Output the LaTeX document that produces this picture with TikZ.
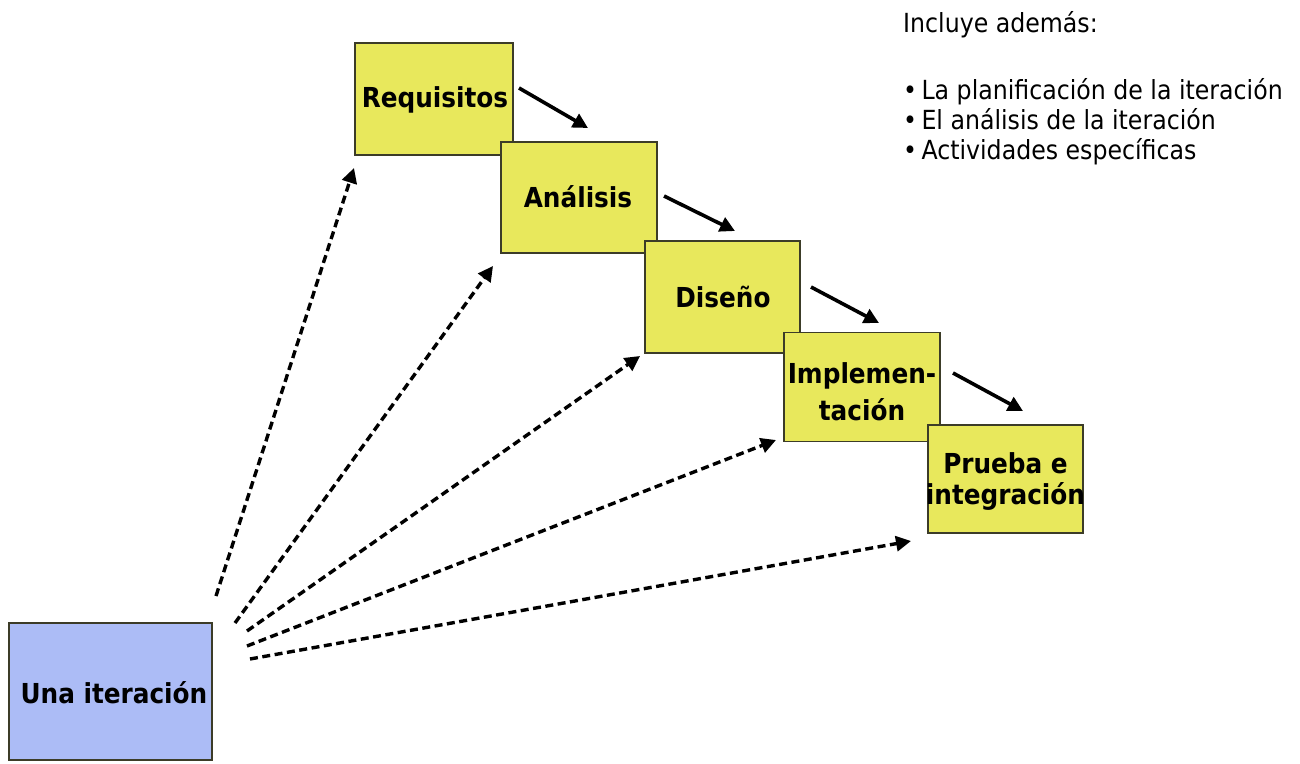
\documentclass[tikz,border=0pt]{standalone}
\usepackage{fontspec}
\setmainfont{DejaVu Sans}
\newfontfamily\boxfont{DejaVu Sans Condensed}
\newfontfamily\notefont{DejaVu Sans Condensed}
\usetikzlibrary{arrows.meta}
\definecolor{boxyellow}{RGB}{232,232,92}
\definecolor{boxblue}{RGB}{172,188,246}
\definecolor{boxline}{RGB}{60,60,40}
\begin{document}
\begin{tikzpicture}[x=1pt,y=-1pt,
  stage/.style={draw=boxline, line width=1.5pt, fill=boxyellow, inner sep=0pt},
  boxtext/.style={font=\boxfont\bfseries\fontsize{27.5}{31}\selectfont, inner sep=0pt, align=center},
  flow/.style={line width=3.6pt, -{Triangle[length=15pt,width=15pt]}},
  feed/.style={line width=3.4pt, dash pattern=on 8pt off 4.5pt, -{Triangle[length=15pt,width=15pt]}},
  note/.style={font=\notefont\fontsize{26.3}{30}\selectfont, inner sep=0pt, anchor=base west}]
\useasboundingbox (0,0) rectangle (1300,763);
\fill[white] (0,0) rectangle (1300,763);

\node[stage, minimum width=158pt, minimum height=112pt] (req) at (434,99) {};
\node[boxtext] at (435,100) {Requisitos};
\node[stage, minimum width=156pt, minimum height=111pt] (ana) at (579,197.5) {};
\node[boxtext] at (578,197) {Análisis};
\node[stage, minimum width=155pt, minimum height=112pt] (dis) at (722.5,297) {};
\node[boxtext] at (723,297) {Diseño};
\node[stage, minimum width=156pt, minimum height=109pt] (imp) at (862,387) {};
\node[boxtext, font=\boxfont\bfseries\fontsize{27.5}{37}\selectfont] at (862,392) {Implemen-\\tación};
\node[stage, minimum width=155pt, minimum height=108pt] (pru) at (1005.5,479) {};
\node[boxtext] at (1005.5,482) {Prueba e\\integración};

\node[draw=boxline, line width=1.5pt, fill=boxblue, minimum width=203pt, minimum height=137pt, inner sep=0pt] (una) at (110.5,691.5) {};
\node[boxtext, anchor=base] at (114,703) {Una iteración};

% solid flow arrows
\coordinate (a1s) at (519,88);  \coordinate (a1e) at (588,128);
\coordinate (a2s) at (664,196); \coordinate (a2e) at (735,231);
\coordinate (a3s) at (811,287); \coordinate (a3e) at (879,323);
\coordinate (a4s) at (953,373); \coordinate (a4e) at (1023,411);
\draw[flow] (a1s) -- (a1e);
\draw[flow] (a2s) -- (a2e);
\draw[flow] (a3s) -- (a3e);
\draw[flow] (a4s) -- (a4e);

% dashed arrows from the iteration
\coordinate (d1s) at (216,596); \coordinate (d1e) at (354,168);
\coordinate (d2s) at (235,623); \coordinate (d2e) at (493,266);
\coordinate (d3s) at (247,631); \coordinate (d3e) at (640,356);
\coordinate (d4s) at (247,646); \coordinate (d4e) at (776,440);
\coordinate (d5s) at (250,659); \coordinate (d5e) at (911,541);
\draw[feed] (d1s) -- (d1e);
\draw[feed] (d2s) -- (d2e);
\draw[feed] (d3s) -- (d3e);
\draw[feed] (d4s) -- (d4e);
\draw[feed] (d5s) -- (d5e);

% note
\node[note] (n0) at (903,32) {Incluye además:};
\node[note] (n1) at (903,99) {\textbullet\,La planificación de la iteración};
\node[note] (n2) at (903,129) {\textbullet\,El análisis de la iteración};
\node[note] (n3) at (903,159) {\textbullet\,Actividades específicas};
\end{tikzpicture}
\end{document}
